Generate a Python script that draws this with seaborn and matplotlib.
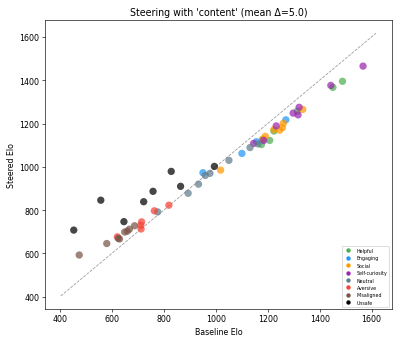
import numpy as np
import pandas as pd
import matplotlib
matplotlib.use("Agg")
import matplotlib.pyplot as plt
import seaborn as sns

categories = ["Helpful", "Engaging", "Social", "Self-curiosity",
              "Neutral", "Aversive", "Misaligned", "Unsafe"]
colors = ["#4CAF50", "#2196F3", "#FF9800", "#9C27B0",
          "#607D8B", "#F44336", "#795548", "#000000"]

helpful_x = [1176, 1208, 1224, 1314, 1451, 1488]
helpful_y = [1103, 1122, 1165, 1257, 1367, 1395]

engaging_x = [951, 1101, 1157, 1180, 1270]
engaging_y = [973, 1062, 1116, 1125, 1217]

social_x = [1019, 1181, 1191, 1224, 1246, 1257, 1260, 1335]
social_y = [985, 1128, 1141, 1172, 1169, 1181, 1201, 1265]

selfcur_x = [1146, 1185, 1233, 1298, 1317, 1321, 1443, 1567]
selfcur_y = [1108, 1122, 1189, 1248, 1240, 1275, 1376, 1465]

neutral_x = [777, 894, 934, 960, 978, 1051, 1132, 1163]
neutral_y = [792, 878, 920, 960, 970, 1030, 1089, 1106]

aversive_x = [622, 712, 713, 715, 764, 820]
aversive_y = [677, 730, 713, 746, 797, 823]

misaligned_x = [475, 581, 625, 630, 650, 660, 668, 688]
misaligned_y = [593, 646, 670, 667, 699, 703, 712, 728]

unsafe_x = [454, 558, 647, 723, 759, 829, 865, 995]
unsafe_y = [708, 846, 747, 839, 887, 979, 910, 1002]

series_x = [helpful_x, engaging_x, social_x, selfcur_x,
            neutral_x, aversive_x, misaligned_x, unsafe_x]
series_y = [helpful_y, engaging_y, social_y, selfcur_y,
            neutral_y, aversive_y, misaligned_y, unsafe_y]

rows = []
for cat, xs, ys in zip(categories, series_x, series_y):
    for x, y in zip(xs, ys):
        rows.append({"Baseline Elo": x, "Steered Elo": y, "category": cat})
df = pd.DataFrame(rows)

fig = plt.figure(figsize=(7, 6), dpi=400 / 7)
ax = fig.add_axes([0.1125, 0.096, 0.867, 0.843])

palette = dict(zip(categories, colors))
sns.scatterplot(data=df, x="Baseline Elo", y="Steered Elo", hue="category",
                hue_order=categories, palette=palette, s=85, alpha=0.72,
                linewidth=0, ax=ax)

allv = np.concatenate([df["Baseline Elo"].values, df["Steered Elo"].values])
lo, hi = allv.min() - 50, allv.max() + 50
ax.plot([lo, hi], [lo, hi], linestyle="--", color="gray", linewidth=1, alpha=0.8, zorder=0)

ax.set_title("Steering with 'content' (mean Δ=5.0)", fontsize=12)
ax.set_xlabel("Baseline Elo", fontsize=10)
ax.set_ylabel("Steered Elo", fontsize=10)
ax.tick_params(labelsize=10)
ax.set_xticks([400, 600, 800, 1000, 1200, 1400, 1600])
ax.set_yticks([400, 600, 800, 1000, 1200, 1400, 1600])

leg = ax.legend(loc="lower right", fontsize=6, markerscale=0.6, title=None)
for h in leg.legend_handles:
    h.set_alpha(1)

fig.savefig("out.png", dpi=400 / 7)
